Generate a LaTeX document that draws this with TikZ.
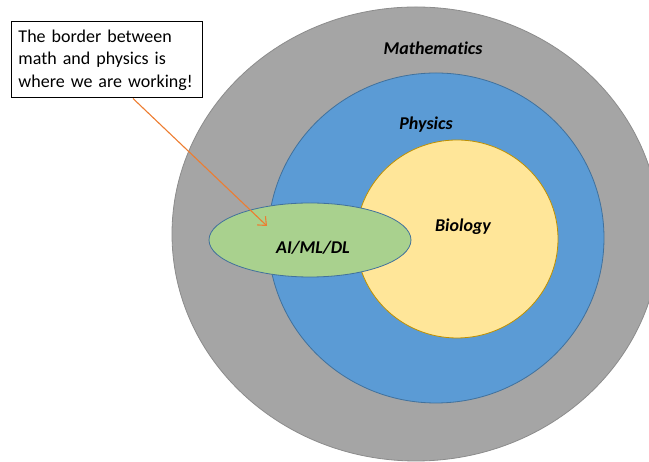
\documentclass[tikz,border=0pt]{standalone}
\usepackage{fontspec}
\setmainfont{Carlito}[Ligatures=NoCommon]
\usetikzlibrary{arrows.meta,shapes.geometric}
\definecolor{mathGray}{HTML}{A5A5A5}
\definecolor{physBlue}{HTML}{5B9BD5}
\definecolor{bioYellow}{HTML}{FFE699}
\definecolor{aiGreen}{HTML}{A9D18E}
\definecolor{edgeBlue}{HTML}{41719C}
\definecolor{edgeGold}{HTML}{BF9000}
\definecolor{noteOrange}{HTML}{ED7D31}

\begin{document}
\begin{tikzpicture}[
  x=1pt, y=1pt,
  field/.style={ellipse, inner sep=0pt, line width=0.8pt},
  fieldlabel/.style={font=\fontsize{18}{21}\selectfont\bfseries\itshape, inner sep=0pt},
  notebox/.style={draw=black, line width=1pt, fill=white, align=left, inner sep=7.5pt,
    font=\fontsize{18}{22.5}\selectfont}
]
\clip (0,0) rectangle (649,462);
% nested fields
\node[field, draw=black!45, fill=mathGray, minimum width=488pt, minimum height=454pt] (math) at (416,228) {};
\node[field, draw=edgeBlue, fill=physBlue, minimum width=336pt, minimum height=330pt] (physics) at (436,224) {};
\node[field, draw=edgeGold, fill=bioYellow, minimum width=202pt, minimum height=198pt] (biology) at (457,223) {};
\node[field, draw=edgeBlue, fill=aiGreen, minimum width=202pt, minimum height=74pt] (aiml) at (310,222) {};

\node[fieldlabel] (mathlabel) at (433,414) {Mathematics};
\node[fieldlabel] (physlabel) at (426,337) {Physics};
\node[fieldlabel] (biolabel) at (463,235) {Biology};
\node[fieldlabel] (aimllabel) at (313,214) {AI/ML/DL};

% callout
\node[notebox, minimum width=191pt, minimum height=76pt, text width=176pt] (note) at (106.5,402)
  {The border between\\math and physics is\\where we are working!};
\coordinate (pointer) at (267,236);
\draw[noteOrange, line width=1.1pt, -{Straight Barb[length=7pt,width=12pt]}]
  ([xshift=26.5pt]note.south) -- (pointer);
\end{tikzpicture}
\end{document}
